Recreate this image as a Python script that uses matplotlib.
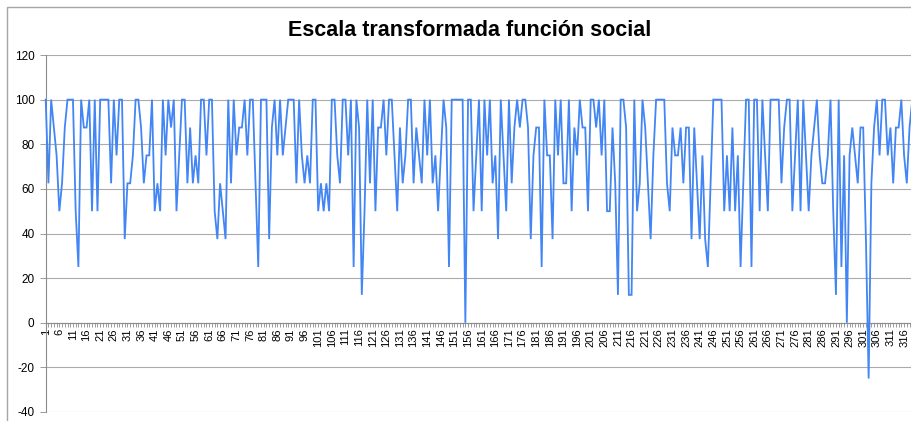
import matplotlib
matplotlib.use("Agg")
import matplotlib.pyplot as plt
from matplotlib.patches import Rectangle

plt.rcParams['font.family'] = ['Liberation Sans', 'DejaVu Sans']

values = [
    100, 62.5, 100, 87.5, 75, 50, 62.5, 87.5, 100, 100,
    100, 50, 25, 100, 87.5, 87.5, 100, 50, 100, 50,
    100, 100, 100, 100, 62.5, 100, 75, 100, 100, 37.5,
    62.5, 62.5, 75, 100, 100, 87.5, 62.5, 75, 75, 100,
    50, 62.5, 50, 100, 75, 100, 87.5, 100, 50, 75,
    100, 100, 62.5, 87.5, 62.5, 75, 62.5, 100, 100, 75,
    100, 100, 50, 37.5, 62.5, 50, 37.5, 100, 62.5, 100,
    75, 87.5, 87.5, 100, 75, 100, 100, 62.5, 25, 100,
    100, 100, 37.5, 87.5, 100, 75, 100, 75, 87.5, 100,
    100, 100, 62.5, 100, 75, 62.5, 75, 62.5, 100, 100,
    50, 62.5, 50, 62.5, 50, 100, 100, 75, 62.5, 100,
    100, 75, 100, 25, 100, 87.5, 12.5, 50, 100, 62.5,
    100, 50, 87.5, 87.5, 100, 75, 100, 100, 75, 50,
    87.5, 62.5, 75, 100, 100, 62.5, 87.5, 75, 62.5, 100,
    75, 100, 62.5, 75, 50, 75, 100, 87.5, 25, 100,
    100, 100, 100, 100, 0, 100, 100, 50, 75, 100,
    50, 100, 75, 100, 62.5, 75, 37.5, 100, 75, 50,
    100, 62.5, 87.5, 100, 87.5, 100, 100, 87.5, 37.5, 75,
    87.5, 87.5, 25, 100, 75, 75, 37.5, 100, 75, 100,
    62.5, 62.5, 100, 50, 87.5, 75, 100, 87.5, 87.5, 50,
    100, 100, 87.5, 100, 75, 100, 50, 50, 87.5, 62.5,
    12.5, 100, 100, 87.5, 12.5, 12.5, 100, 50, 62.5, 100,
    87.5, 62.5, 37.5, 75, 100, 100, 100, 100, 62.5, 50,
    87.5, 75, 75, 87.5, 62.5, 87.5, 87.5, 37.5, 87.5, 62.5,
    37.5, 75, 37.5, 25, 62.5, 100, 100, 100, 100, 50,
    75, 50, 87.5, 50, 75, 25, 62.5, 100, 100, 25,
    100, 100, 50, 100, 75, 50, 100, 100, 100, 100,
    62.5, 87.5, 100, 100, 50, 75, 100, 50, 100, 75,
    50, 75, 87.5, 100, 75, 62.5, 62.5, 75, 100, 50,
    12.5, 100, 25, 75, 0, 75, 87.5, 75, 62.5, 87.5,
    87.5, 37.5, -25, 62.5, 87.5, 100, 75, 100, 100, 75,
    87.5, 62.5, 87.5, 87.5, 100, 75, 62.5, 87.5, 100,
]
categories = list(range(1, len(values) + 1))
x_labels = [str(c) for c in categories[::5]]
y_ticks = [-40, -20, 0, 20, 40, 60, 80, 100, 120]
title = "Escala transformada función social"

W, H = 912, 421
fig = plt.figure(figsize=(W / 100, H / 100), dpi=100)

# chart border
fig.patches.append(Rectangle((7 / W, -0.05), 1.2, 1 - 7 / H + 0.05,
                             transform=fig.transFigure, fill=False,
                             edgecolor='#A6A6A6', linewidth=1.0))

left = 45.7 / W
pt = 2.725
width = (len(values) - 1) * pt / W
bottom = 1 - 412 / H
top = 1 - 55 / H
ax = fig.add_axes([left, bottom, width, top - bottom])

ax.plot(categories, values, color='#4285F4', linewidth=1.3,
        solid_joinstyle='miter', zorder=3, clip_on=False)

ax.set_xlim(1, len(values))
ax.set_ylim(-40, 120)
ax.set_yticks(y_ticks)
ax.set_yticklabels([str(v) for v in y_ticks], fontsize=8.5)
ax.yaxis.grid(True, color='#ABABAB', linewidth=0.8)
ax.set_axisbelow(True)

for s in ['top', 'right']:
    ax.spines[s].set_visible(False)
ax.spines['left'].set_color('#8C8C8C')
ax.spines['left'].set_linewidth(0.8)
ax.spines['bottom'].set_position(('data', 0))
ax.spines['bottom'].set_color('#8C8C8C')
ax.spines['bottom'].set_linewidth(0.8)

ax.set_xticks(categories[::5])
ax.set_xticklabels(x_labels, rotation=90, fontsize=8)
ax.set_xticks(categories, minor=True)
ax.tick_params(axis='x', which='both', length=3, width=0.6, color='#8C8C8C', pad=1)
ax.tick_params(axis='y', length=4, width=0.6, color='#8C8C8C', pad=4)

fig.text(470 / W, 1 - 30 / H, title, ha='center', va='center',
         fontsize=15.5, fontweight='bold')

fig.savefig('out.png', dpi=100)
